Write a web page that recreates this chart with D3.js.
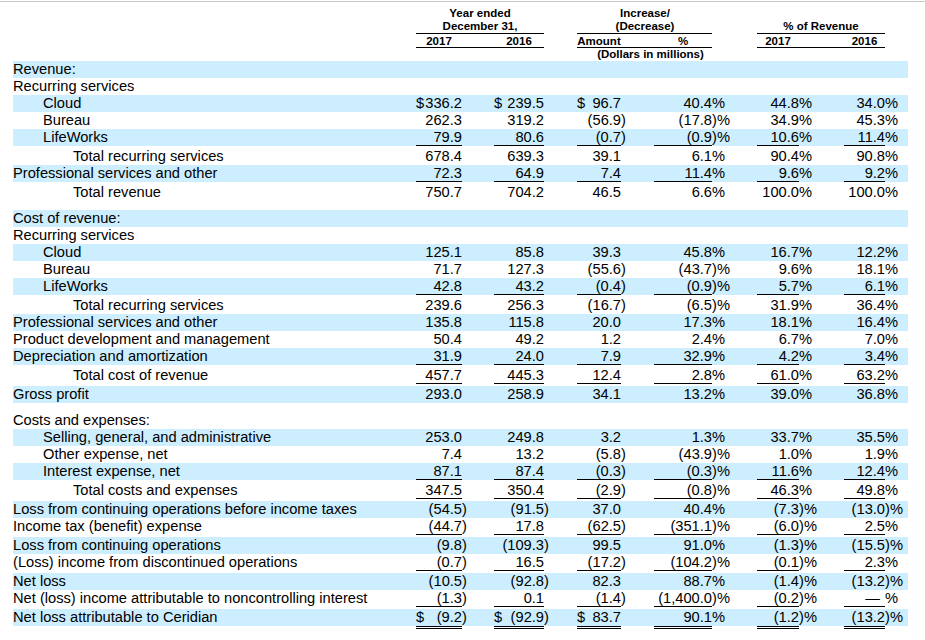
<!DOCTYPE html>
<html><head><meta charset="utf-8">
<script src="https://cdn.jsdelivr.net/npm/d3@7"></script>
<style>
html,body{margin:0;padding:0;background:#fff;}
svg{display:block;}
text{font-family:"Liberation Sans",Arial,sans-serif;fill:#000;}
</style></head>
<body><svg id="chart" width="925" height="640"></svg>
<script>
const labels = ["Revenue:","Recurring services","Cloud","Bureau","LifeWorks","Total recurring services","Professional services and other","Total revenue",
"Cost of revenue:","Recurring services","Cloud","Bureau","LifeWorks","Total recurring services","Professional services and other","Product development and management","Depreciation and amortization","Total cost of revenue","Gross profit",
"Costs and expenses:","Selling, general, and administrative","Other expense, net","Interest expense, net","Total costs and expenses","Loss from continuing operations before income taxes","Income tax (benefit) expense","Loss from continuing operations","(Loss) income from discontinued operations","Net loss","Net (loss) income attributable to noncontrolling interest","Net loss attributable to Ceridian"];
const indentLevel = [0,0,1,1,1,2,0,2, 0,0,1,1,1,2,0,0,0,2,0, 0,1,1,1,2,0,0,0,0,0,0,0];
const amount2017 = [null,null,336.2,262.3,79.9,678.4,72.3,750.7, null,null,125.1,71.7,42.8,239.6,135.8,50.4,31.9,457.7,293.0, null,253.0,7.4,87.1,347.5,-54.5,-44.7,-9.8,-0.7,-10.5,-1.3,-9.2];
const amount2016 = [null,null,239.5,319.2,80.6,639.3,64.9,704.2, null,null,85.8,127.3,43.2,256.3,115.8,49.2,24.0,445.3,258.9, null,249.8,13.2,87.4,350.4,-91.5,17.8,-109.3,16.5,-92.8,0.1,-92.9];
const changeAmount = [null,null,96.7,-56.9,-0.7,39.1,7.4,46.5, null,null,39.3,-55.6,-0.4,-16.7,20.0,1.2,7.9,12.4,34.1, null,3.2,-5.8,-0.3,-2.9,37.0,-62.5,99.5,-17.2,82.3,-1.4,83.7];
const changePct = [null,null,40.4,-17.8,-0.9,6.1,11.4,6.6, null,null,45.8,-43.7,-0.9,-6.5,17.3,2.4,32.9,2.8,13.2, null,1.3,-43.9,-0.3,-0.8,40.4,-351.1,91.0,-104.2,88.7,-1400.0,90.1];
const revPct2017 = [null,null,44.8,34.9,10.6,90.4,9.6,100.0, null,null,16.7,9.6,5.7,31.9,18.1,6.7,4.2,61.0,39.0, null,33.7,1.0,11.6,46.3,-7.3,-6.0,-1.3,-0.1,-1.4,-0.2,-1.2];
const revPct2016 = [null,null,34.0,45.3,11.4,90.8,9.2,100.0, null,null,12.2,18.1,6.1,36.4,16.4,7.0,3.4,63.2,36.8, null,35.5,1.9,12.4,49.8,-13.0,2.5,-15.5,2.3,-13.2,0,-13.2];
const dollarRows = [2,30];
const underlineRows = [4,6,12,16,17,22,23,25,27,29];
const doubleUnderlineRows = [30];
const sectionStarts = [8,19];
const colHeaders = ["2017","2016","Amount","%","2017","2016"];

const svg = d3.select("#chart");
svg.append("line").attr("x1",0).attr("x2",925).attr("y1",1.5).attr("y2",1.5).attr("stroke","#c8c8c8").attr("stroke-width",1);

// column geometry: [left, digitRight]
const colKeys = ["c2017","c2016","amt","pct","r2017","r2016"];
const colLeft = d3.scaleOrdinal().domain(colKeys).range([416,494,577,654,757,844]);
const colRight = d3.scaleOrdinal().domain(colKeys).range([462,544,621,712,799,885]);
const colData = {c2017:amount2017,c2016:amount2016,amt:changeAmount,pct:changePct,r2017:revPct2017,r2016:revPct2016};
const isPct = {c2017:false,c2016:false,amt:false,pct:true,r2017:true,r2016:true};

// rows
const n = labels.length;
const heights = d3.range(n).map(i => 17 + (i>0 && underlineRows.includes(i-1) ? 2 : 0));
const gaps = d3.range(n).map(i => sectionStarts.includes(i) ? 9 : 0);
const tops = []; let acc = 61;
for (let i=0;i<n;i++){ acc += gaps[i]; tops.push(acc); acc += heights[i]; }
const yTop = d3.scaleOrdinal().domain(d3.range(n)).range(tops);
const yBottom = i => yTop(i) + heights[i];
const xIndent = d3.scaleLinear().domain([0,2]).range([13,73]);

const rows = d3.range(n);
// bands
svg.append("g").selectAll("rect").data(rows.filter(i=>i%2===0)).join("rect")
  .attr("x",13).attr("width",895).attr("y",i=>yBottom(i)-17).attr("height",17).attr("fill","#cceeff");

// header
const hdr = svg.append("g").style("font-weight","bold").style("font-size","11.5px");
const hdrText = (x,y,t)=>hdr.append("text").attr("x",x).attr("y",y).attr("text-anchor","middle").text(t);
hdrText(480,17,"Year ended"); hdrText(480,30,"December 31,");
hdrText(645,17,"Increase/"); hdrText(645,30,"(Decrease)");
hdrText(821,30,"% of Revenue");
colKeys.forEach((k,j)=>hdrText((colLeft(k)+colRight(k))/2,45,colHeaders[j]));
hdrText(650.5,58,"(Dollars in millions)");
const segs = [[416,544],[577,712],[757,885]];
[33.5,47.5].forEach(y=>segs.forEach(s=>svg.append("line").attr("x1",s[0]).attr("x2",s[1]).attr("y1",y).attr("y2",y).attr("stroke","#000")));

// labels
svg.append("g").style("font-size","14.667px").selectAll("text").data(rows).join("text")
  .attr("x",i=>xIndent(indentLevel[i])).attr("y",i=>yBottom(i)-4).text(i=>labels[i]);

// numbers
const fmt = d3.format(",.1f");
const g = svg.append("g").style("font-size","14.667px");
colKeys.forEach(k=>{
  const vals = colData[k];
  const xr = colRight(k);
  rows.forEach(i=>{
    const v = vals[i]; if (v===null) return;
    const y = yBottom(i)-4;
    let main, suffix;
    if (v===0 && isPct[k]) { g.append("text").attr("x",xr-5).attr("y",y).attr("text-anchor","end").text("—"); g.append("text").attr("x",xr).attr("y",y).text("%"); return; }
    if (v<0) { main="("+fmt(-v); suffix=")"+(isPct[k]?"%":""); }
    else { main=fmt(v); suffix=isPct[k]?"%":""; }
    g.append("text").attr("x",xr).attr("y",y).attr("text-anchor","end").text(main);
    if (suffix) g.append("text").attr("x",xr).attr("y",y).text(suffix);
    if (dollarRows.includes(i) && !isPct[k]) g.append("text").attr("x",colLeft(k)).attr("y",y).text("$");
  });
  underlineRows.forEach(i=>{
    const y = yBottom(i)-0.5;
    svg.append("line").attr("x1",colLeft(k)).attr("x2",xr).attr("y1",y).attr("y2",y).attr("stroke","#000");
  });
  doubleUnderlineRows.forEach(i=>{
    [0.5,2.5].forEach(o=>{
      const y = yBottom(i)+o;
      svg.append("line").attr("x1",colLeft(k)).attr("x2",xr).attr("y1",y).attr("y2",y).attr("stroke","#000");
    });
  });
});
</script></body></html>
